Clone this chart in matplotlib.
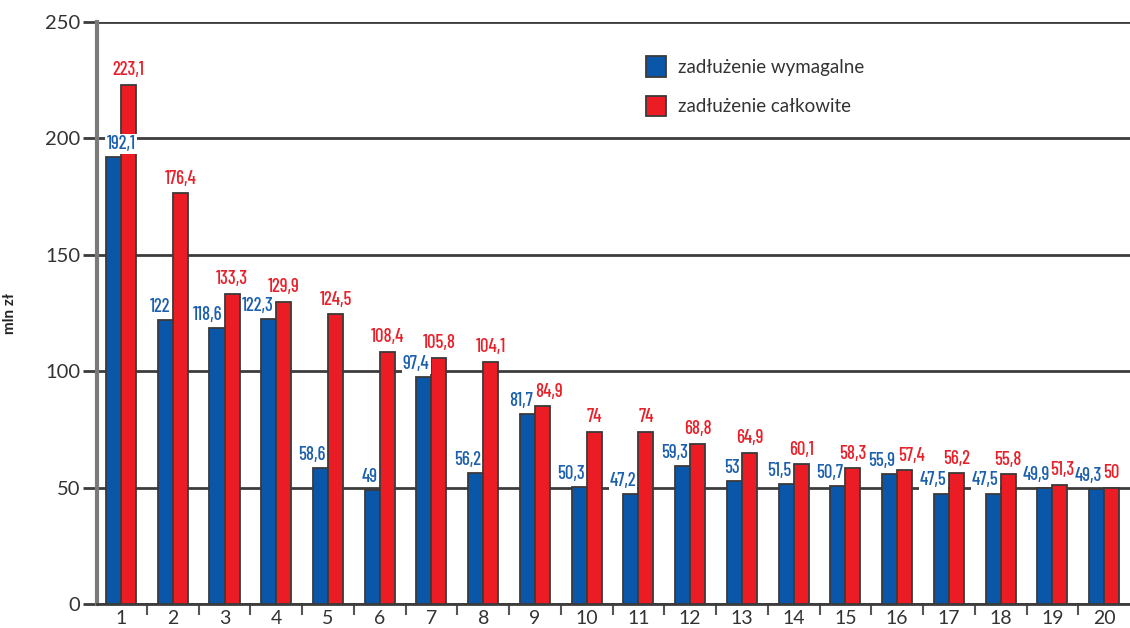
import numpy as np
import matplotlib
matplotlib.use("Agg")
import matplotlib.pyplot as plt
from matplotlib.ticker import MultipleLocator

categories = [str(i) for i in range(1, 21)]
wymagalne = [192.1, 122, 118.6, 122.3, 58.6, 49, 97.4, 56.2, 81.7, 50.3,
             47.2, 59.3, 53, 51.5, 50.7, 55.9, 47.5, 47.5, 49.9, 49.3]
calkowite = [223.1, 176.4, 133.3, 129.9, 124.5, 108.4, 105.8, 104.1, 84.9, 74,
             74, 68.8, 64.9, 60.1, 58.3, 57.4, 56.2, 55.8, 51.3, 50]
legend_labels = ["zadłużenie wymagalne", "zadłużenie całkowite"]

BLUE = "#0a56a8"
RED = "#ec1c24"
BLUE_TXT = "#1b5fae"
RED_TXT = "#e8202a"
EDGE = "#3a3a3a"
GRID = "#3c3c3c"

plt.rcParams["font.family"] = ["Lato", "DejaVu Sans"]
LBL_FONT = ["Barlow Condensed", "DejaVu Sans"]

fig = plt.figure(figsize=(11.3, 6.28), dpi=100)
ax = fig.add_axes([0.0858, 0.038, 0.9142, 0.927])

x = np.arange(1, len(categories) + 1)
w = 0.29
ax.bar(x - w / 2, wymagalne, w, color=BLUE, edgecolor=EDGE, linewidth=1.3,
       label=legend_labels[0], zorder=3)
ax.bar(x + w / 2, calkowite, w, color=RED, edgecolor=EDGE, linewidth=1.3,
       label=legend_labels[1], zorder=3)

def fmt(v):
    return f"{v:g}".replace(".", ",")

# red labels nudged right where they would run into the blue one (pts)
red_nudge = {9: 5, 16: 5, 19: 2}

box = dict(boxstyle="square,pad=0.06", fc="white", ec="none")
for i, (xi, v) in enumerate(zip(x + w / 2, calkowite), start=1):
    ax.annotate(fmt(v), (xi, v), xytext=(red_nudge.get(i, 0), 4), textcoords="offset points",
                ha="center", va="bottom", color=RED_TXT, fontsize=13.5, fontweight=500,
                family=LBL_FONT, bbox=box, zorder=6)
for i, (xi, v) in enumerate(zip(x, wymagalne)):
    # first label sits centred over the pair, others end at the blue bar's edge
    ha = "center" if i == 0 else "right"
    dx = 0 if i == 0 else -1.5
    ax.annotate(fmt(v), (xi, v), xytext=(dx, 3), textcoords="offset points",
                ha=ha, va="bottom", color=BLUE_TXT, fontsize=13.5, fontweight=500,
                family=LBL_FONT, bbox=box, zorder=7)

ax.set_xlim(0.535, 20.5)
ax.set_ylim(0, 250)
ax.yaxis.set_major_locator(MultipleLocator(50))
ax.set_xticks(x)
ax.set_xticklabels(categories)
ax.set_xticks(np.arange(1.5, 20.5, 1), minor=True)
ax.tick_params(axis="x", which="major", length=0, labelsize=14, pad=4, labelcolor="#333333")
ax.tick_params(axis="x", which="minor", length=8, width=1.5, color="#555555", direction="out")
ax.tick_params(axis="y", length=10, width=2, color=GRID, labelsize=14.5, labelcolor="#333333", pad=2)

ax.grid(axis="y", color=GRID, linewidth=2, zorder=0)
for s in ["top", "right"]:
    ax.spines[s].set_visible(False)
ax.spines["left"].set_color("#7a7a7a")
ax.spines["left"].set_linewidth(3)
ax.spines["bottom"].set_color(GRID)
ax.spines["bottom"].set_linewidth(2)

ax.set_ylabel("mln zł", fontsize=11, fontweight="bold", color="#222222", labelpad=20)

ax.legend(loc="upper left", bbox_to_anchor=(0.515, 0.97), frameon=False, fontsize=13.5,
          handlelength=1.1, handleheight=1.3, handletextpad=0.6, labelspacing=1.0,
          labelcolor="#333333")

fig.savefig("out.png", dpi=100)
